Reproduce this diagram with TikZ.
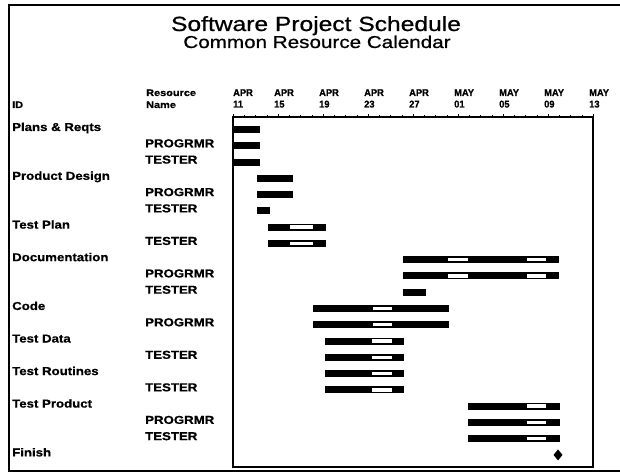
\documentclass[tikz,border=0pt]{standalone}
\usepackage{fontspec}
\setmainfont{Liberation Sans}
\newfontfamily\titlefont[FakeStretch=1.2,FakeBold=0.8]{Liberation Sans}
\newfontfamily\rowfont[FakeStretch=1.15,FakeBold=0.8]{Liberation Sans}
\newfontfamily\datefont[FakeStretch=0.95,FakeBold=0.8]{Liberation Sans}

% row geometry: text baseline and bar centre of row #1
\newcommand\rowbase[1]{131+16.27*#1}
\newcommand\rowmid[1]{129.5+16.27*#1}
% solid duration bar: row, start x, end x
\newcommand\ganttbar[3]{\fill (#2,{\rowmid{#1}-3.5}) rectangle (#3,{\rowmid{#1}+3.5});}
% white slack inset inside a bar: row, start x, end x
\newcommand\slackbar[3]{\fill[white] (#2,{\rowmid{#1}-1.7}) rectangle (#3,{\rowmid{#1}+1.7});}

\begin{document}
\begin{tikzpicture}[x=1pt,y=-1pt,
  titletext/.style={font=\titlefont\fontsize{20.5}{24}\selectfont, anchor=base, inner sep=0},
  subtitletext/.style={font=\titlefont\fontsize{17.2}{20}\selectfont, anchor=base, inner sep=0},
  tasklabel/.style={font=\rowfont\bfseries\fontsize{11.5}{13}\selectfont, anchor=base west, inner sep=0},
  hdrlabel/.style={font=\rowfont\bfseries\fontsize{9.5}{11}\selectfont, anchor=base west, inner sep=0},
  datelabel/.style={font=\datefont\bfseries\fontsize{9.8}{11}\selectfont, anchor=base west, inner sep=0},
]
\useasboundingbox (0,0) rectangle (620,473);

% outer frame (open on the right)
\draw[line width=1.3] (620,5) -- (9,5) -- (9,471) -- (620,471);

% titles
\node[titletext] (title) at (316,31) {Software Project Schedule};
\node[subtitletext] (subtitle) at (317,48) {Common Resource Calendar};

% column headers
\node[hdrlabel] (hid) at (12,108) {ID};
\node[hdrlabel] (hres) at (146,96) {Resource};
\node[hdrlabel] (hname) at (146,108) {Name};

% time axis
\draw[line width=1.1] (233,117) rectangle (593,467);
\foreach \d in {1,...,31} \draw[line width=0.4] ({233+11.25*\d},117) -- ++(0,-1.5);
\foreach \k/\m/\dd in {0/APR/11,1/APR/15,2/APR/19,3/APR/23,4/APR/27,5/MAY/01,6/MAY/05,7/MAY/09,8/MAY/13}{
  \draw[line width=0.8] ({233+45*\k},117) -- ++(0,-3);
  \pgfmathsetmacro\lx{ifthenelse(\k==0,233,229+45*\k)}
  \node[datelabel] (mon\k) at (\lx,96) {\m};
  \node[datelabel] (day\k) at (\lx,107.5) {\dd};
}

% task and resource labels
\foreach \i/\t in {0/Plans \& Reqts,3/Product Design,6/Test Plan,8/Documentation,11/Code,13/Test Data,15/Test Routines,17/Test Product,20/Finish}
  \node[tasklabel] (task\i) at (12,{\rowbase{\i}}) {\t};
\foreach \i/\t in {1/PROGRMR,2/TESTER,4/PROGRMR,5/TESTER,7/TESTER,9/PROGRMR,10/TESTER,12/PROGRMR,14/TESTER,16/TESTER,18/PROGRMR,19/TESTER}
  \node[tasklabel] (res\i) at (145,{\rowbase{\i}}) {\t};

% bars
\foreach \i in {0,1,2} {\ganttbar{\i}{233}{260}}
\foreach \i in {3,4} {\ganttbar{\i}{257}{293}}
\ganttbar{5}{257}{270}
\foreach \i in {6,7} {\ganttbar{\i}{268}{326}\slackbar{\i}{290}{313}}
\foreach \i in {8,9} {\ganttbar{\i}{403}{559}\slackbar{\i}{448}{468}\slackbar{\i}{527}{546}}
\ganttbar{10}{403}{426}
\foreach \i in {11,12} {\ganttbar{\i}{313}{449}\slackbar{\i}{373}{392}}
\foreach \i in {13,14,15,16} {\ganttbar{\i}{325}{404}\slackbar{\i}{372}{392}}
\foreach \i in {17,18,19} {\ganttbar{\i}{468}{560}\slackbar{\i}{527}{546}}

% milestone
\fill (558,{\rowmid{20}-5.5}) -- (562.5,{\rowmid{20}}) -- (558,{\rowmid{20}+5.5}) -- (553.5,{\rowmid{20}}) -- cycle;
\end{tikzpicture}
\end{document}
